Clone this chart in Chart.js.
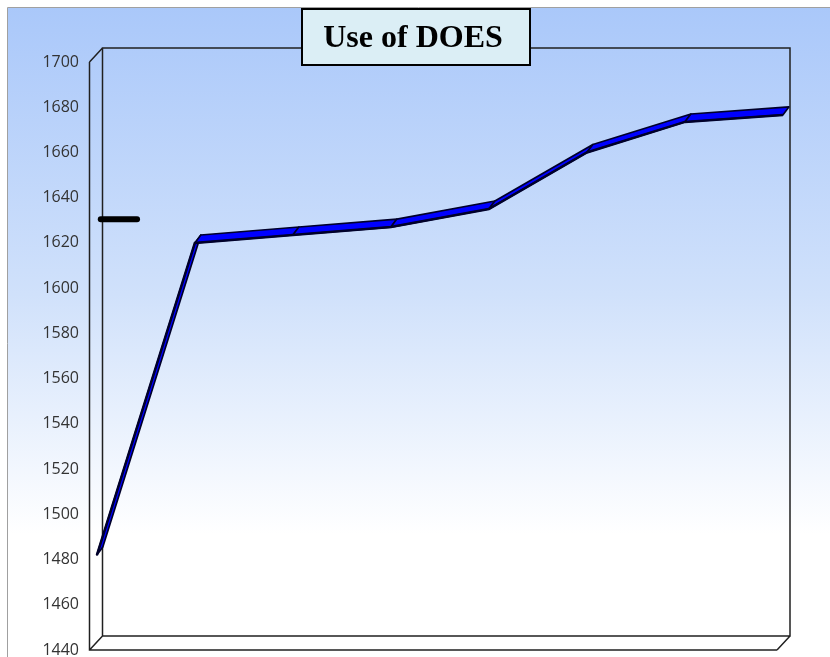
<!DOCTYPE html>
<html>
<head>
<meta charset="utf-8">
<script src="https://cdn.jsdelivr.net/npm/chart.js@4.4.0/dist/chart.umd.min.js"></script>
<style>
    html, body { margin: 0; padding: 0; background: #ffffff; overflow: hidden; }
    #wrap { width: 830px; height: 680px; }
</style>
</head>
<body>
<div id="wrap"><canvas id="does_chart" width="830" height="680"></canvas></div>
<script>
// Use of DOES
var pointIndex = [0, 1, 2, 3, 4, 5, 6, 7];
var doesValues = [1482, 1620, 1623.5, 1627, 1635, 1660, 1673.5, 1676.6];
var markerX = [0.04, 0.41];
var markerValue = 1630.5;
var yTicks = { min: 1440, max: 1700, step: 20 };
var titleText = "Use of DOES";

var depthX = 13; // 3d wall depth
var depthY = 14;
var ribbonX = 6; // ribbon depth
var ribbonY = 8;

var chart1;

// background gradient + thin grey frame
var backdrop = {
    id: "backdrop",
    beforeDraw: function (chart) {
        var ctx = chart.ctx;
        var grad = ctx.createLinearGradient(0, 8, 0, 580);
        grad.addColorStop(0, "#aac8fa");
        grad.addColorStop(0.5, "#d0e1fb");
        grad.addColorStop(0.92, "#ffffff");
        ctx.save();
        ctx.fillStyle = grad;
        ctx.fillRect(8, 8, chart.width - 8, chart.height - 8);
        ctx.strokeStyle = "#a0a0a0";
        ctx.lineWidth = 1;
        ctx.beginPath();
        ctx.moveTo(7.5, chart.height);
        ctx.lineTo(7.5, 7.5);
        ctx.lineTo(chart.width, 7.5);
        ctx.stroke();
        ctx.restore();
    },
};

// 3d box walls and the ribbon under the line
var walls = {
    id: "walls",
    beforeDatasetsDraw: function (chart) {
        var ctx = chart.ctx;
        var a = chart.chartArea;
        var l = a.left - 0.5, t = a.top, b = a.bottom, r = a.right;
        ctx.save();
        ctx.strokeStyle = "#202020";
        ctx.lineWidth = 1.5;
        ctx.beginPath();
        // back wall
        ctx.rect(l + depthX, t - depthY, r - l, b - t);
        // front edges
        ctx.moveTo(l, t);
        ctx.lineTo(l, b);
        ctx.lineTo(r, b);
        ctx.moveTo(l, t);
        ctx.lineTo(l + depthX, t - depthY);
        ctx.moveTo(l, b);
        ctx.lineTo(l + depthX, b - depthY);
        ctx.moveTo(r, b);
        ctx.lineTo(r + depthX, b - depthY);
        ctx.stroke();

        // ribbon from the line points
        var pts = chart.getDatasetMeta(0).data;
        ctx.fillStyle = "#0000ff";
        ctx.strokeStyle = "#00002a";
        ctx.lineWidth = 1.6;
        ctx.lineJoin = "round";
        for (var i = 0; i < pts.length - 1; i++) {
            var p = pts[i], q = pts[i + 1];
            ctx.beginPath();
            ctx.moveTo(p.x, p.y);
            ctx.lineTo(q.x, q.y);
            ctx.lineTo(q.x + ribbonX, q.y - ribbonY);
            ctx.lineTo(p.x + ribbonX, p.y - ribbonY);
            ctx.closePath();
            ctx.fill();
            ctx.stroke();
        }
        ctx.restore();
    },
    afterDraw: function (chart) {
        // title box
        var ctx = chart.ctx;
        ctx.save();
        ctx.fillStyle = "#dbeef5";
        ctx.fillRect(302, 9, 228, 56);
        ctx.strokeStyle = "#000000";
        ctx.lineWidth = 2;
        ctx.strokeRect(302, 9, 228, 56);
        ctx.fillStyle = "#000000";
        ctx.font = "bold 32px 'Liberation Serif', 'Times New Roman', serif";
        ctx.textAlign = "center";
        ctx.textBaseline = "middle";
        ctx.fillText(titleText, 413, 39);
        ctx.restore();
    },
};

function lineData() {
    var list = [];
    for (var i = 0; i < pointIndex.length; i++) {
        list.push({ x: pointIndex[i], y: doesValues[i] });
    }
    return list;
}

function setChart() {
    chart1 = new Chart("does_chart", {
        type: "line",
        data: {
            datasets: [
                {
                    label: "DOES",
                    data: lineData(),
                    borderColor: "#00002a",
                    borderWidth: 2.5,
                    pointRadius: 0,
                    tension: 0,
                    clip: false,
                },
                {
                    label: "marker",
                    data: [
                        { x: markerX[0], y: markerValue },
                        { x: markerX[1], y: markerValue },
                    ],
                    borderColor: "#000000",
                    borderWidth: 6,
                    borderCapStyle: "round",
                    pointRadius: 0,
                    clip: false,
                },
            ],
        },
        options: {
            responsive: false,
            animation: false,
            events: [],
            layout: {
                padding: { top: 62, bottom: 30, left: 0, right: 53 },
            },
            scales: {
                x: {
                    type: "linear",
                    display: false,
                    min: -0.07,
                    max: 6.94,
                },
                y: {
                    min: yTicks.min,
                    max: yTicks.max,
                    grid: { display: false, drawTicks: false },
                    border: { display: false },
                    ticks: {
                        stepSize: yTicks.step,
                        padding: 11,
                        color: "#333333",
                        font: { family: "'Open Sans', sans-serif", size: 16 },
                        callback: function (value) {
                            return String(value);
                        },
                    },
                    afterFit: function (scale) {
                        scale.width = 90;
                    },
                },
            },
            plugins: {
                legend: { display: false },
                tooltip: { enabled: false },
                title: { display: false },
            },
        },
        plugins: [backdrop, walls],
    });
}

setChart();
</script>
</body>
</html>
